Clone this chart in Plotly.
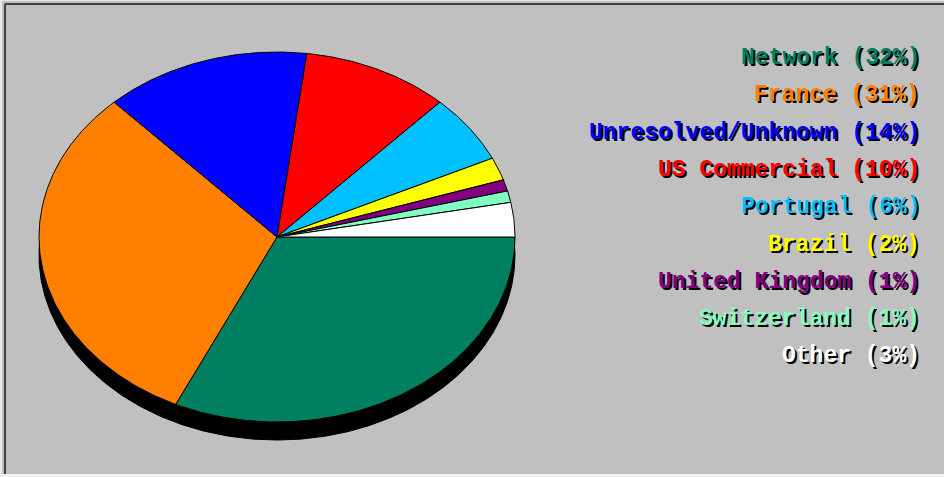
import numpy as np
import plotly.graph_objects as go

# ---- data ----
labels = ["Network", "France", "Unresolved/Unknown", "US Commercial", "Portugal",
          "Brazil", "United Kingdom", "Switzerland", "Other"]
values = [32, 31, 14, 10, 6, 2, 1, 1, 3]
colors = ["#008060", "#FF8000", "#0000FF", "#FF0000", "#00C0FF",
          "#FFFF00", "#800080", "#80FFC0", "#FFFFFF"]

# ---- layout constants (pixel space) ----
W, H = 944, 477
CX, CY = 277, 237
RX, RY = 238, 185
SHADOW = 18
BG = "#C0C0C0"

fig = go.Figure()

# shadow ellipse
t = np.linspace(0, 2 * np.pi, 721)
fig.add_trace(go.Scatter(x=CX + RX * np.cos(t), y=CY + SHADOW + RY * np.sin(t),
                         fill="toself", fillcolor="black", mode="lines",
                         line=dict(color="black", width=1), hoverinfo="skip",
                         showlegend=False))

total = float(sum(values))
start = 0.0
for lab, v, c in zip(labels, values, colors):
    span = 2 * np.pi * v / total
    n = max(3, int(np.degrees(span) * 2))
    tt = np.linspace(start, start + span, n)
    xs = np.concatenate([[CX], CX + RX * np.cos(tt), [CX]])
    ys = np.concatenate([[CY], CY + RY * np.sin(tt), [CY]])
    fig.add_trace(go.Scatter(x=xs, y=ys, fill="toself", fillcolor=c, mode="lines",
                             line=dict(color="black", width=1), name=lab,
                             hoverinfo="name", showlegend=False))
    start += span

# legend text
pct = [round(100 * v / total) for v in values]
for i, (lab, p, c) in enumerate(zip(labels, pct, colors)):
    fig.add_annotation(x=922, y=58 + 37.3 * i, xref="x", yref="y",
                       text=f"{lab} ({p}%)", showarrow=False,
                       xanchor="right", yanchor="middle",
                       font=dict(family="Liberation Mono", size=23, color=c,
                                 weight="bold", shadow="2px 2px 0px black"))

# window frame
shapes = [
    dict(type="line", x0=0, x1=W, y0=0.5, y1=0.5, line=dict(color="#E8E8E8", width=1)),
    dict(type="line", x0=1, x1=1, y0=0, y1=H, line=dict(color="#E8E8E8", width=2)),
    dict(type="line", x0=5, x1=W, y0=4, y1=4, line=dict(color="#404040", width=2)),
    dict(type="line", x0=5, x1=5, y0=4, y1=H - 3, line=dict(color="#404040", width=2)),
    dict(type="line", x0=0, x1=W, y0=H - 1.5, y1=H - 1.5, line=dict(color="#F0F0F0", width=3)),
]

fig.update_layout(
    width=W, height=H, margin=dict(l=0, r=0, t=0, b=0),
    paper_bgcolor=BG, plot_bgcolor=BG, shapes=shapes,
    xaxis=dict(range=[0, W], visible=False, fixedrange=True),
    yaxis=dict(range=[H, 0], visible=False, fixedrange=True),
    showlegend=False,
)
fig.write_html("out.html", config={"displayModeBar": False},
               post_script="document.body.style.margin='0';document.body.style.overflow='hidden';")
